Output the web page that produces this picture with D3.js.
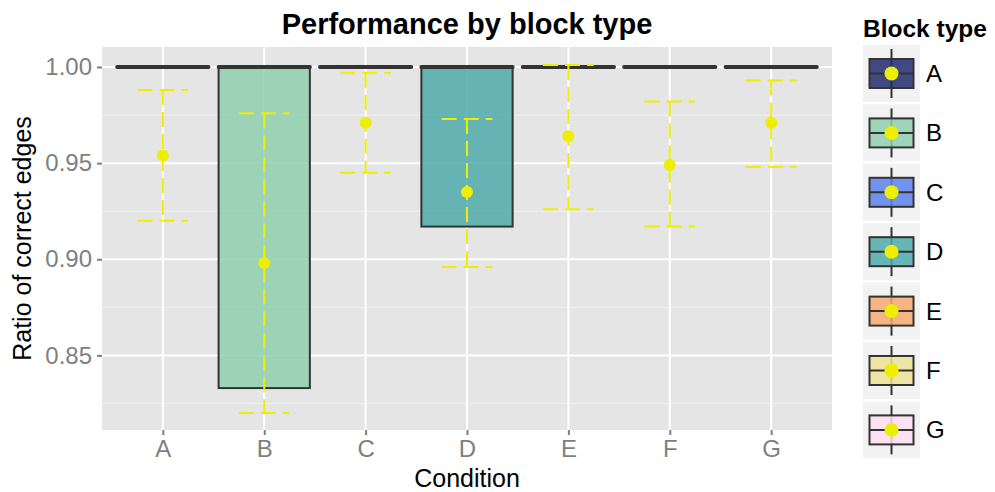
<!DOCTYPE html>
<html>
<head>
<meta charset="utf-8">
<script src="https://cdnjs.cloudflare.com/ajax/libs/d3/7.8.5/d3.min.js"></script>
<style>
  body { margin: 0; background: #fff; }
  text { font-family: "Liberation Sans", Arial, sans-serif; }
</style>
</head>
<body>
<svg width="995" height="492"></svg>
<script>
// data
var conditions = ["A", "B", "C", "D", "E", "F", "G"];
var boxLower  = [1.000, 0.833, 1.000, 0.917, 1.000, 1.000, 1.000];
var boxMedian = [1.000, 1.000, 1.000, 1.000, 1.000, 1.000, 1.000];
var boxUpper  = [1.000, 1.000, 1.000, 1.000, 1.000, 1.000, 1.000];
var means     = [0.954, 0.898, 0.971, 0.935, 0.964, 0.949, 0.971];
var errLow    = [0.920, 0.820, 0.945, 0.896, 0.926, 0.917, 0.948];
var errHigh   = [0.988, 0.976, 0.997, 0.973, 1.001, 0.982, 0.993];
var yTicks = [0.85, 0.90, 0.95, 1.00];
var yMinor = [0.825, 0.875, 0.925, 0.975];
var fills = ["#222B70", "#8FD0AE", "#5A82ED", "#4FAAAA", "#F4AA70", "#EDE394", "#FCDFF5"];

var svg = d3.select("svg");
var pLeft = 102, pRight = 832, pTop = 47, pBottom = 430;

var x = d3.scaleLinear().domain([0.4, 7.6]).range([pLeft, pRight]);
var y = d3.scaleLinear().domain([0.8112, 1.0104]).range([pBottom, pTop]);
var color = d3.scaleOrdinal(conditions, fills);

// panel
svg.append("rect").attr("x", pLeft).attr("y", pTop)
  .attr("width", pRight - pLeft).attr("height", pBottom - pTop).attr("fill", "#E5E5E5");

var g = svg.append("g");
g.selectAll(".minor").data(yMinor).enter().append("line")
  .attr("x1", pLeft).attr("x2", pRight)
  .attr("y1", d => y(d)).attr("y2", d => y(d))
  .attr("stroke", "#F2F2F2").attr("stroke-width", 1);
g.selectAll(".major").data(yTicks).enter().append("line")
  .attr("x1", pLeft).attr("x2", pRight)
  .attr("y1", d => y(d)).attr("y2", d => y(d))
  .attr("stroke", "#fff").attr("stroke-width", 2);
g.selectAll(".vgrid").data(conditions).enter().append("line")
  .attr("x1", (d, i) => x(i + 1)).attr("x2", (d, i) => x(i + 1))
  .attr("y1", pTop).attr("y2", pBottom)
  .attr("stroke", "#fff").attr("stroke-width", 2);

// boxes
var bw = 0.45;
conditions.forEach(function(c, i) {
  var cx = i + 1;
  if (boxUpper[i] > boxLower[i]) {
    g.append("rect")
      .attr("x", x(cx - bw)).attr("width", x(cx + bw) - x(cx - bw))
      .attr("y", y(boxUpper[i])).attr("height", y(boxLower[i]) - y(boxUpper[i]))
      .attr("fill", color(c)).attr("fill-opacity", 0.85)
      .attr("stroke", "#333").attr("stroke-width", 2);
  }
  g.append("line")
    .attr("x1", x(cx - bw)).attr("x2", x(cx + bw))
    .attr("y1", y(boxMedian[i])).attr("y2", y(boxMedian[i]))
    .attr("stroke", "#333").attr("stroke-width", 4).attr("stroke-linecap", "round");
});

// error bars (top cap, stem, bottom cap)
var ew = 0.25;
conditions.forEach(function(c, i) {
  var cx = i + 1;
  var segs = [
    [[cx - ew, errHigh[i]], [cx + ew, errHigh[i]]],
    [[cx, errHigh[i]], [cx, errLow[i]]],
    [[cx - ew, errLow[i]], [cx + ew, errLow[i]]]
  ];
  segs.forEach(function(s) {
    g.append("line")
      .attr("x1", x(s[0][0])).attr("y1", y(s[0][1]))
      .attr("x2", x(s[1][0])).attr("y2", y(s[1][1]))
      .attr("stroke", "#EEEE00").attr("stroke-width", 2)
      .attr("stroke-dasharray", "15,7");
  });
});

g.selectAll(".mean").data(means).enter().append("circle")
  .attr("cx", (d, i) => x(i + 1)).attr("cy", d => y(d))
  .attr("r", 6).attr("fill", "#EEEE00");

// axes
var yAxis = svg.append("g").attr("transform", "translate(" + pLeft + ",0)")
  .call(d3.axisLeft(y).tickValues(yTicks).tickFormat(d3.format(".2f")).tickSize(5).tickPadding(5));
var xAxis = svg.append("g").attr("transform", "translate(0," + pBottom + ")")
  .call(d3.axisBottom(x).tickValues(d3.range(1, 8)).tickFormat(d => conditions[d - 1]).tickSize(5).tickPadding(5));
[yAxis, xAxis].forEach(function(a) {
  a.select(".domain").remove();
  a.selectAll(".tick line").attr("stroke", "#7F7F7F").attr("stroke-width", 2);
  a.selectAll(".tick text").attr("fill", "#7F7F7F").style("font-size", "24px");
});

svg.append("text").attr("x", 467).attr("y", 34).attr("text-anchor", "middle")
  .style("font-size", "29px").style("font-weight", "bold").text("Performance by block type");
svg.append("text").attr("x", 467).attr("y", 487).attr("text-anchor", "middle")
  .style("font-size", "25px").text("Condition");
svg.append("text").attr("transform", "translate(31," + ((pTop + pBottom) / 2) + ") rotate(-90)")
  .attr("text-anchor", "middle").style("font-size", "25px").text("Ratio of correct edges");

// legend
var lg = svg.append("g").attr("transform", "translate(863,0)");
lg.append("text").attr("x", 0).attr("y", 37).style("font-size", "24.5px").style("font-weight", "bold").text("Block type");
var keys = lg.selectAll(".key").data(conditions).enter().append("g")
  .attr("transform", (d, i) => "translate(0," + (45 + i * 59.4) + ")");
keys.append("rect").attr("width", 57).attr("height", 57).attr("fill", "#F2F2F2");
keys.append("line").attr("x1", 28.5).attr("x2", 28.5).attr("y1", 4).attr("y2", 53)
  .attr("stroke", "#333").attr("stroke-width", 2);
keys.append("rect").attr("x", 6.5).attr("y", 14).attr("width", 44).attr("height", 29)
  .attr("fill", d => color(d)).attr("fill-opacity", 0.85).attr("stroke", "#333").attr("stroke-width", 2);
keys.append("line").attr("x1", 6.5).attr("x2", 50.5).attr("y1", 28.5).attr("y2", 28.5)
  .attr("stroke", "#333").attr("stroke-width", 2);
keys.append("circle").attr("cx", 28.5).attr("cy", 28.5).attr("r", 7).attr("fill", "#EEEE00");
keys.append("text").attr("x", 63).attr("y", 37).style("font-size", "24px").text(d => d);
</script>
</body>
</html>
